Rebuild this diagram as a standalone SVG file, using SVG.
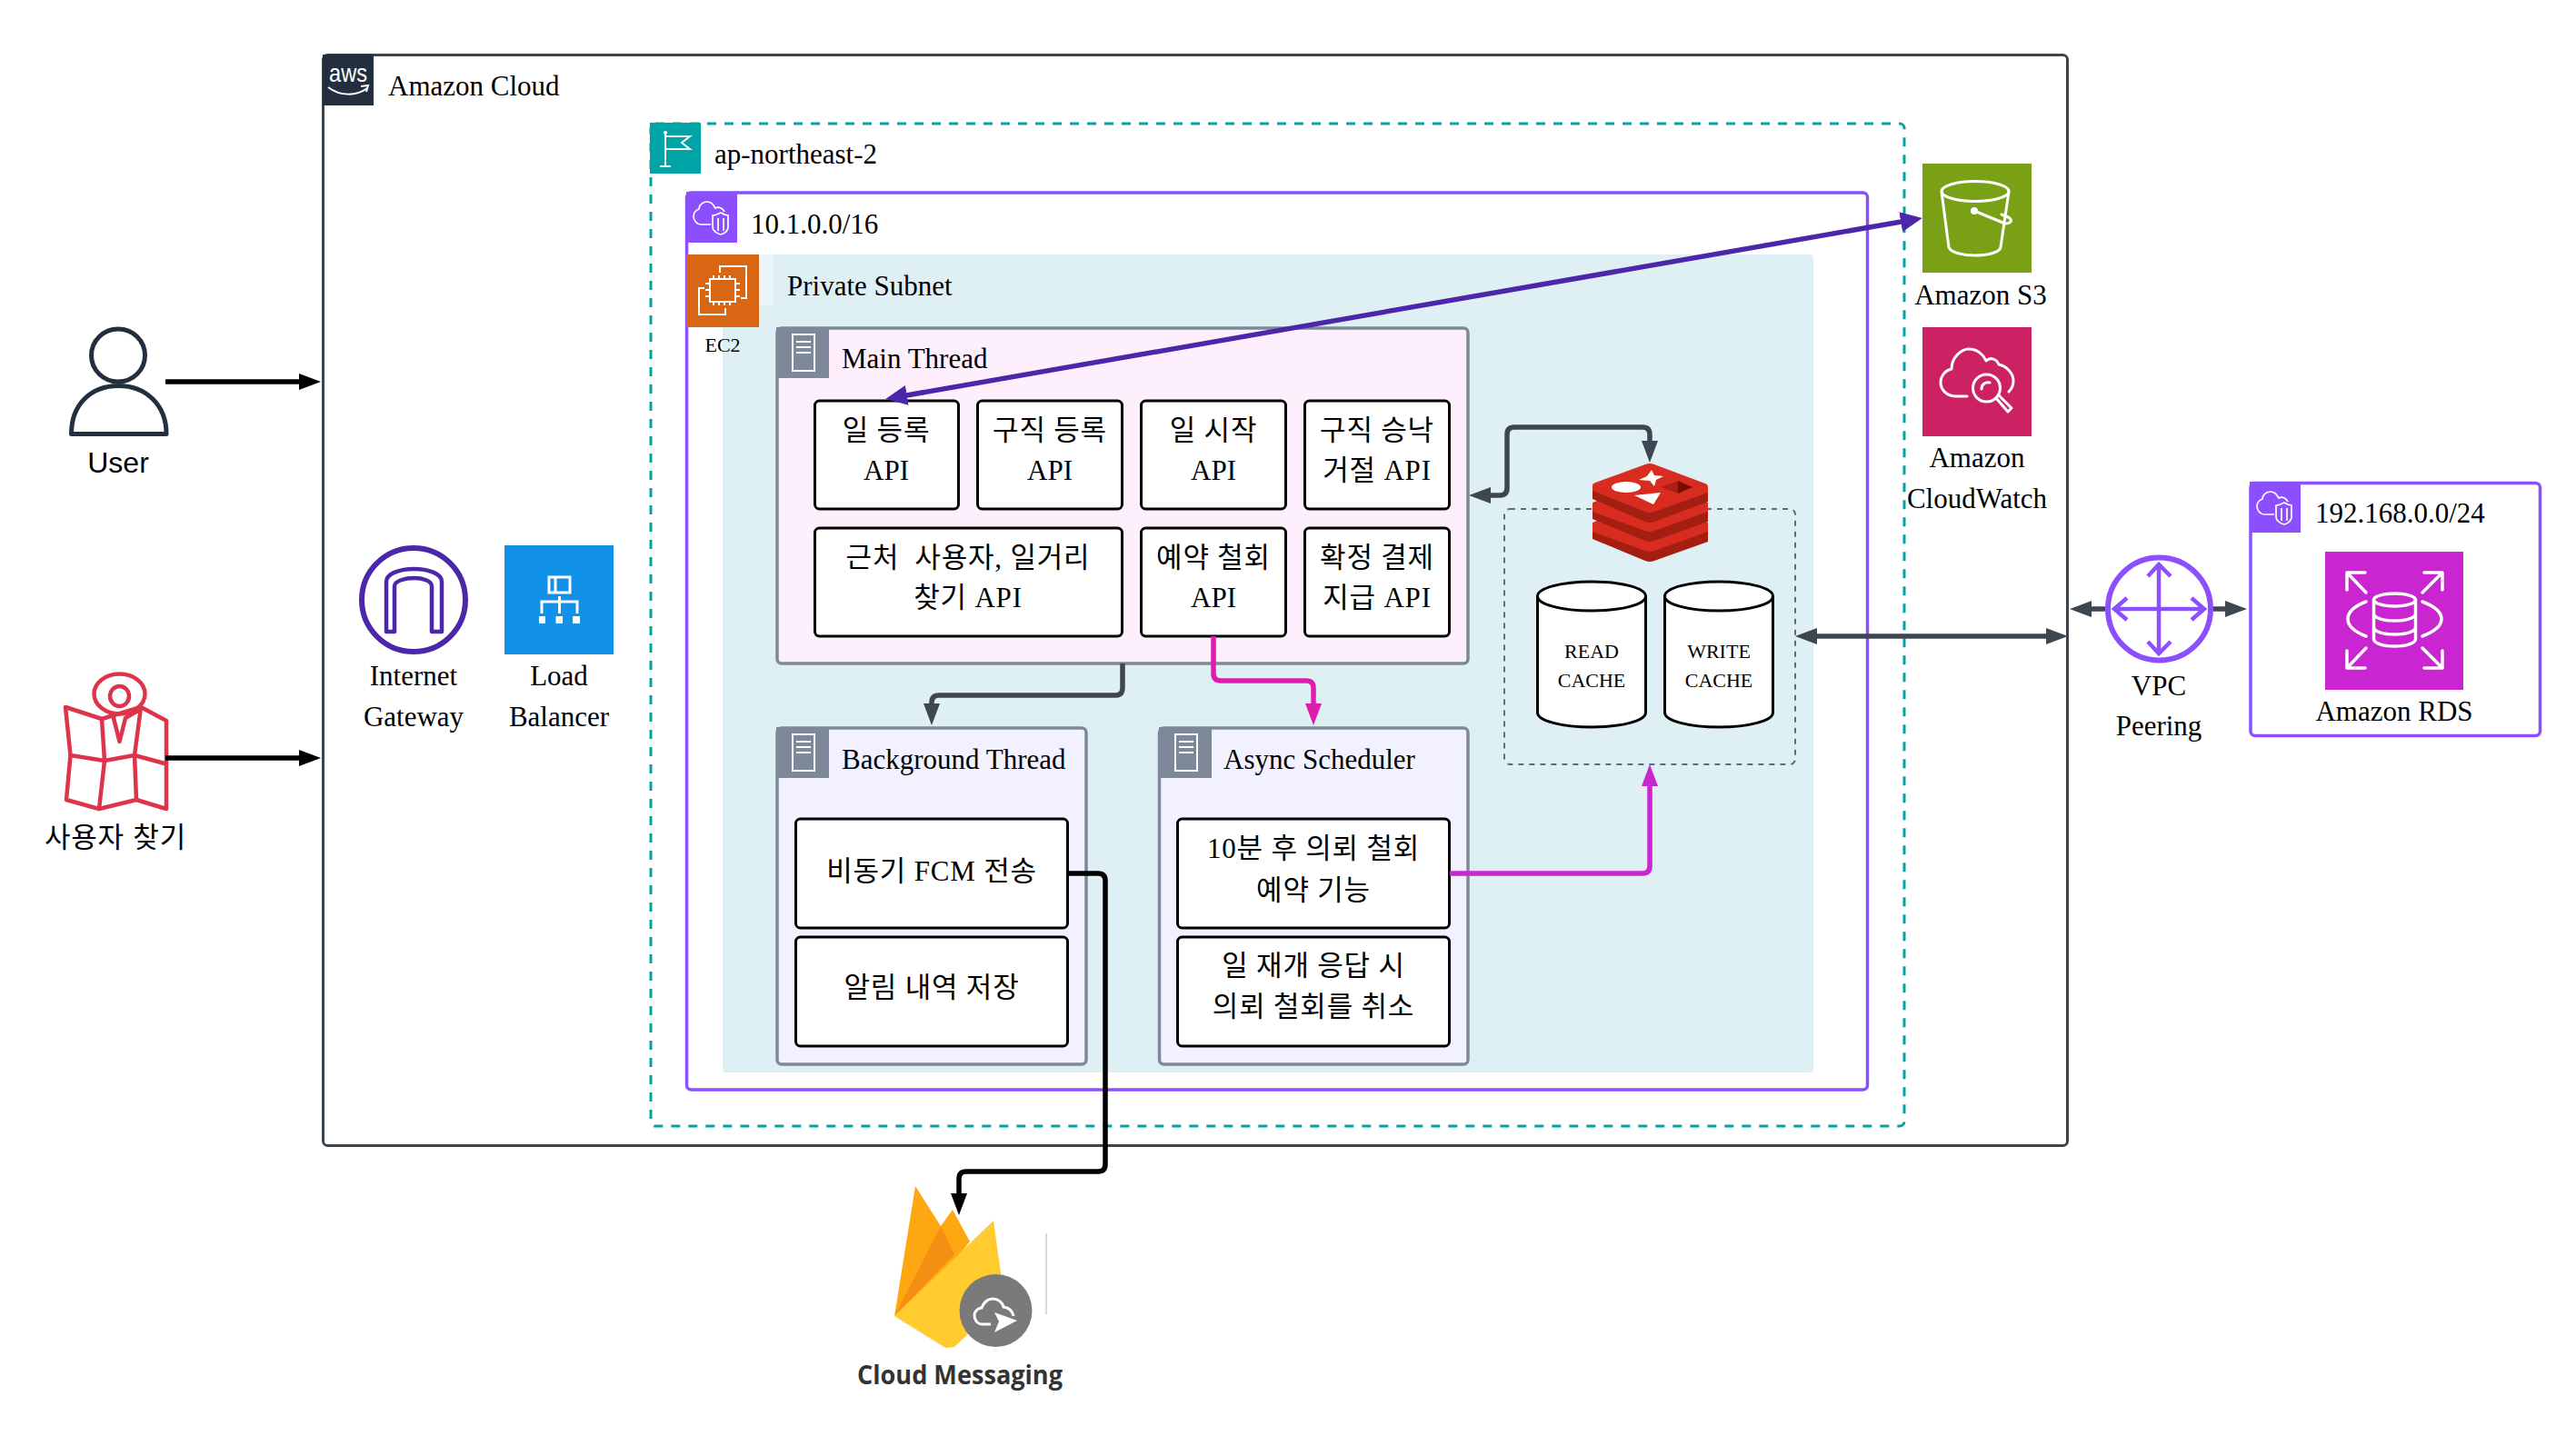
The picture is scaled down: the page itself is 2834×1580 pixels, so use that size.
<svg xmlns="http://www.w3.org/2000/svg" xmlns:xlink="http://www.w3.org/1999/xlink" width="2834" height="1580" viewBox="0 0 2834 1580">
<style>
text{font-family:"Liberation Serif","Noto Sans CJK KR",serif;font-size:31px;fill:#000;white-space:pre}
.m{text-anchor:middle}
.k{letter-spacing:.8px}
.s{font-family:"Liberation Sans","Noto Sans CJK KR",sans-serif}
.sm{font-size:22px}
.card{fill:#fff;stroke:#000;stroke-width:3}
.thread{stroke:#7D8998;stroke-width:3.5}
.hdr{fill:#7D8998}
.ic{fill:none;stroke:#fff;stroke-width:3;stroke-linecap:round;stroke-linejoin:round}
.icn{fill:none;stroke:#fff;stroke-width:2}
.con{fill:none;stroke-width:5.5}
.vpc{fill:#fff;stroke:#8C4FFF;stroke-width:3.5}
.cyl{fill:#fff;stroke:#000;stroke-width:3}
</style>
<defs>
<marker id="ak" markerUnits="userSpaceOnUse" markerWidth="24" markerHeight="18" refX="12" refY="9" orient="auto-start-reverse"><path d="M0 0L24 9L0 18Z" fill="#000"/></marker>
<marker id="ag" markerUnits="userSpaceOnUse" markerWidth="24" markerHeight="18" refX="12" refY="9" orient="auto-start-reverse"><path d="M0 0L24 9L0 18Z" fill="#3D4651"/></marker>
<marker id="ap" markerUnits="userSpaceOnUse" markerWidth="24" markerHeight="22" refX="12" refY="11" orient="auto-start-reverse"><path d="M0 0L24 11L0 22Z" fill="#4D27AA"/></marker>
<marker id="am" markerUnits="userSpaceOnUse" markerWidth="24" markerHeight="18" refX="12" refY="9" orient="auto-start-reverse"><path d="M0 0L24 9L0 18Z" fill="#E01CB0"/></marker>
<marker id="an" markerUnits="userSpaceOnUse" markerWidth="24" markerHeight="18" refX="12" refY="9" orient="auto-start-reverse"><path d="M0 0L24 9L0 18Z" fill="#C925D1"/></marker>
<g id="server"><rect width="58" height="56" class="hdr"/><rect x="18" y="8" width="24" height="40" class="icn"/><path d="M22 16H38M22 22H38M22 28H38" class="icn"/></g>
<g id="vpcicon"><rect width="56" height="56" fill="#8C4FFF"/><path d="M27 36H17C11 36 8 31 8 27C8 23 11 20 14 19C14 14 19 11 23 11C27 11 30 14 32 18C36 16 40 18 42 22" fill="none" stroke="#fff" stroke-width="1.7"/><path d="M38 23C34 25 32 26 29 26V39C29 43 34 46 38 47C42 46 46 43 46 39V26C43 26 41 25 38 23ZM35 29V43M41 29V43" fill="none" stroke="#fff" stroke-width="1.7"/></g>
</defs>
<rect width="2834" height="1580" fill="#fff"/>

<g id="amazon-cloud">
<rect x="355.500" y="60.500" width="1919" height="1200" rx="5" fill="#fff" stroke="#3A4450" stroke-width="3"/>
<rect x="355" y="60" width="56" height="56" fill="#232F3E"/>
<text x="383" y="90" class="m s" style="font-size:28px;fill:#fff" textLength="42" lengthAdjust="spacingAndGlyphs">aws</text>
<path d="M361 96C374 106 392 106 404 97M397 95L405 94L403 101" fill="none" stroke="#fff" stroke-width="2"/>
<text x="427" y="105">Amazon Cloud</text>
</g>
<g id="region">
<rect x="716" y="136" width="1379" height="1103" rx="5" fill="#fff" stroke="#00A4A6" stroke-width="3" stroke-dasharray="10 9"/>
<rect x="715" y="135" width="56" height="56" fill="#00A4A6"/>
<path d="M732 148V182M726 183H738M732 150H759L750 157L759 164H732" fill="none" stroke="#fff" stroke-width="2"/>
<circle cx="732" cy="146" r="2" fill="#fff"/>
<text x="786" y="180">ap-northeast-2</text>
</g>
<g id="vpc-main">
<rect x="755.500" y="212" width="1299" height="987" rx="5" class="vpc"/>
<use xlink:href="#vpcicon" x="755" y="211"/>
<text x="826" y="257">10.1.0.0/16</text>
</g>
<g id="private-subnet">
<rect x="795" y="280" width="1200" height="900" rx="4" fill="#DFF0F5"/>
<rect x="835" y="280" width="16" height="56" fill="#EAF4FB"/>
<text x="866" y="325">Private Subnet</text>
</g>
<g id="ec2">
<rect x="755" y="280" width="80" height="80" fill="#D86613"/>
<g class="icn"><rect x="781" y="307" width="28" height="25"/>
<path d="M785 307V303M791 307V303M797 307V303M803 307V303M785 332V336M791 332V336M797 332V336M803 332V336M781 312H776M781 319H776M781 326H776M809 312H814M809 319H814M809 326H814M792 300V293H821V328H815M775 317H769V346H798V339"/></g>
<text x="795" y="387" class="m sm">EC2</text>
</g>

<g id="main-thread">
<rect x="855" y="361" width="760" height="369" rx="5" fill="#FDEFFB" class="thread"/>
<use xlink:href="#server" x="854" y="360"/>
<text x="926" y="405">Main Thread</text>
</g>
<g id="api-1"><rect x="896.500" y="441" width="158" height="119" rx="5" class="card"/><text x="975" y="484" class="m k">일 등록</text><text x="975" y="528" class="m">API</text></g>
<g id="api-2"><rect x="1075.500" y="441" width="159" height="119" rx="5" class="card"/><text x="1155" y="484" class="m k">구직 등록</text><text x="1155" y="528" class="m">API</text></g>
<g id="api-3"><rect x="1255.500" y="441" width="159" height="119" rx="5" class="card"/><text x="1335" y="484" class="m k">일 시작</text><text x="1335" y="528" class="m">API</text></g>
<g id="api-4"><rect x="1435.500" y="441" width="159" height="119" rx="5" class="card"/><text x="1515" y="484" class="m k">구직 승낙</text><text x="1515" y="528" class="m k">거절 API</text></g>
<g id="api-5"><rect x="896.500" y="581" width="338" height="119" rx="5" class="card"/><text x="1065" y="624" class="m k">근처  사용자, 일거리</text><text x="1065" y="668" class="m k">찾기 API</text></g>
<g id="api-6"><rect x="1255.500" y="581" width="159" height="119" rx="5" class="card"/><text x="1335" y="624" class="m k">예약 철회</text><text x="1335" y="668" class="m">API</text></g>
<g id="api-7"><rect x="1435.500" y="581" width="159" height="119" rx="5" class="card"/><text x="1515" y="624" class="m k">확정 결제</text><text x="1515" y="668" class="m k">지급 API</text></g>

<g id="background-thread">
<rect x="855" y="801" width="340" height="370" rx="5" fill="#F1F1FF" class="thread"/>
<use xlink:href="#server" x="854" y="800"/>
<text x="926" y="846">Background Thread</text>
<g id="bg-1"><rect x="875.500" y="901" width="299" height="120" rx="5" class="card"/><text x="1025" y="969" class="m k">비동기 FCM 전송</text></g>
<g id="bg-2"><rect x="875.500" y="1031" width="299" height="120" rx="5" class="card"/><text x="1025" y="1097" class="m k">알림 내역 저장</text></g>
</g>
<g id="async-scheduler">
<rect x="1275.500" y="801" width="339.500" height="370" rx="5" fill="#F1F1FF" class="thread"/>
<use xlink:href="#server" x="1275" y="800"/>
<text x="1346" y="846">Async Scheduler</text>
<g id="as-1"><rect x="1295.500" y="901" width="299" height="120" rx="5" class="card"/><text x="1445" y="944" class="m k">10분 후 의뢰 철회</text><text x="1445" y="990" class="m k">예약 기능</text></g>
<g id="as-2"><rect x="1295.500" y="1031" width="299" height="120" rx="5" class="card"/><text x="1445" y="1073" class="m k">일 재개 응답 시</text><text x="1445" y="1118" class="m k">의뢰 철회를 취소</text></g>
</g>

<g id="redis-group">
<rect x="1655" y="560" width="320" height="281" rx="6" fill="none" stroke="#5A6B86" stroke-width="2" stroke-dasharray="6 6"/>
</g>
<g id="redis">
<path d="M1752 582L1815 556L1879 582V596L1820 617Q1815 619 1810 617L1752 593Z" fill="#A41E11"/>
<path d="M1752 575L1815 550L1879 575V585L1820 606Q1815 608 1810 606L1752 585Z" fill="#D82C20"/>
<path d="M1752 560L1815 534L1879 560V574L1820 595Q1815 597 1810 595L1752 571Z" fill="#A41E11"/>
<path d="M1752 553L1815 528L1879 553V563L1820 584Q1815 586 1810 584L1752 563Z" fill="#D82C20"/>
<path d="M1752 537L1815 512L1879 537V552L1820 574Q1815 576 1810 574L1752 549Z" fill="#A41E11"/>
<path d="M1752 534Q1752 532 1755 531L1810 511Q1815 509 1820 511L1876 532Q1879 533 1879 536V542L1820 563Q1815 565 1810 563L1752 540Z" fill="#D82C20"/>
<path d="M1817 517L1820 523L1830 524L1822 528L1820 535L1815 529L1803 528L1812 524Z" fill="#fff"/>
<ellipse cx="1789" cy="536" rx="16" ry="6" fill="#fff"/>
<path d="M1798 545L1827 542L1819 555Z" fill="#fff"/>
<path d="M1827 536L1846 529V543Z" fill="#AD2115"/>
<path d="M1846 529L1862 536L1846 543Z" fill="#7A0C00"/>
</g>
<g id="read-cache">
<path d="M1691.500 656C1691.500 647 1718 640 1751 640C1784 640 1810.500 647 1810.500 656V784C1810.500 793 1784 800 1751 800C1718 800 1691.500 793 1691.500 784Z" class="cyl"/>
<path d="M1691.500 656C1691.500 665 1718 672 1751 672C1784 672 1810.500 665 1810.500 656" class="cyl" fill="none"/>
<text x="1751" y="724" class="m sm">READ</text><text x="1751" y="756" class="m sm">CACHE</text>
</g>
<g id="write-cache">
<path d="M1831.500 656C1831.500 647 1858 640 1891 640C1924 640 1950.500 647 1950.500 656V784C1950.500 793 1924 800 1891 800C1858 800 1831.500 793 1831.500 784Z" class="cyl"/>
<path d="M1831.500 656C1831.500 665 1858 672 1891 672C1924 672 1950.500 665 1950.500 656" class="cyl" fill="none"/>
<text x="1891" y="724" class="m sm">WRITE</text><text x="1891" y="756" class="m sm">CACHE</text>
</g>

<g id="user">
<ellipse cx="130" cy="391" rx="29.500" ry="29" fill="none" stroke="#232F3E" stroke-width="5"/>
<path d="M78.500 477.500C78.500 445 100 424.500 130.500 424.500C160 424.500 183 445 183 477.500Z" fill="none" stroke="#232F3E" stroke-width="5" stroke-linejoin="round"/>
<text x="130" y="520" class="m s" style="font-size:32px">User</text>
</g>
<g id="find-user">
<g fill="none" stroke="#DD344C" stroke-width="4.500" stroke-linejoin="round" stroke-linecap="round">
<ellipse cx="131.500" cy="763.500" rx="28" ry="22"/>
<ellipse cx="131.500" cy="766" rx="10.500" ry="11"/>
<path d="M72 778L112 791L155 778L183 793V890L150 880L109 890L73 880L77.500 831Z"/>
<path d="M77.500 831L115 837L148 831L181 840M112 791L115 837L109 890M155 778L148 831L150 880M125 790L131.500 816L138 790L155 780"/>
</g>
<text x="127" y="932" class="m s k">사용자 찾기</text>
</g>
<g id="internet-gateway">
<circle cx="455" cy="660" r="57" fill="#fff" stroke="#4D27AA" stroke-width="6"/>
<path d="M425 695V640C425 631 440 626 455.500 626C471 626 486 631 486 640V695H475V645C475 639 465 636 455.500 636C446 636 434 639 434 645V695Z" fill="none" stroke="#4D27AA" stroke-width="4.500" stroke-linejoin="round"/>
<text x="455" y="754" class="m">Internet</text><text x="455" y="799" class="m">Gateway</text>
</g>
<g id="load-balancer">
<rect x="555" y="600" width="120" height="120" fill="#1192E8"/>
<g fill="none" stroke="#fff" stroke-width="3"><rect x="604" y="635" width="23" height="17"/><path d="M611 635V652M615.500 656V675M596 675V662H635V675"/></g>
<path d="M593 678h7v8h-7zM611.500 678h7.500v8h-7.500zM630 678h8v8h-8z" fill="#fff"/>
<text x="615" y="754" class="m">Load</text><text x="615" y="799" class="m">Balancer</text>
</g>
<g id="s3">
<rect x="2115" y="180" width="120" height="120" fill="#7AA116"/>
<g class="ic"><ellipse cx="2173" cy="210.500" rx="37" ry="11"/><path d="M2136 211L2144 272C2146 278 2160 281 2173 281C2186 281 2200 278 2201 272L2210 211"/><circle cx="2172" cy="232" r="2.500"/><path d="M2172 232L2206 246C2212 246 2214 243 2211 240C2208 238 2205 237 2202 236"/></g>
<text x="2179" y="335" class="m">Amazon S3</text>
</g>
<g id="cloudwatch">
<rect x="2115" y="360" width="120" height="120" fill="#CC2264"/>
<g class="ic"><path d="M2164 436H2152C2141 436 2135 428 2135 421C2135 413 2141 407 2147 406C2147 393 2158 384 2166 384C2175 384 2182 390 2185 397C2189 393 2196 394 2199 401C2208 403 2215 411 2215 419C2215 424 2213 428 2210 431"/><circle cx="2185.500" cy="427" r="15"/><path d="M2196 438L2209 453L2213 449L2199 435M2180 428C2180 423 2184 420 2189 421"/></g>
<text x="2175" y="514" class="m">Amazon</text><text x="2175" y="559" class="m">CloudWatch</text>
</g>
<g id="vpc-peering">
<circle cx="2375.500" cy="670" r="56.500" fill="#fff" stroke="#8C4FFF" stroke-width="6"/>
<path d="M2375 622V718M2326 670H2425M2363 634L2375 621L2388 634M2363 706L2375 719L2388 706M2340 658L2326 670L2340 682M2411 658L2425 670L2411 682" fill="none" stroke="#8C4FFF" stroke-width="4.500"/>
<text x="2375" y="765" class="m">VPC</text><text x="2375" y="809" class="m">Peering</text>
</g>
<g id="vpc-rds">
<rect x="2476" y="531.500" width="318.500" height="278" rx="5" class="vpc"/>
<use xlink:href="#vpcicon" x="2475" y="530"/>
<text x="2547" y="575">192.168.0.0/24</text>
</g>
<g id="rds">
<rect x="2558" y="607" width="152" height="152" fill="#C925D1"/>
<g class="ic" style="stroke-width:3.500"><ellipse cx="2634.500" cy="660" rx="23" ry="7"/><path d="M2611.500 660V703C2611.500 708 2622 711 2634.500 711C2647 711 2657.500 708 2657.500 703V660M2611.500 675C2611.500 680 2622 683 2634.500 683C2647 683 2657.500 680 2657.500 675M2611.500 690C2611.500 695 2622 698 2634.500 698C2647 698 2657.500 695 2657.500 690M2603 662C2590 667 2583 674 2583 681C2583 688 2590 695 2603 700M2665 662C2678 667 2686 674 2686 681C2686 688 2678 695 2665 700"/><path d="M2603 652L2582 630M2582 649V630H2602M2665 652L2687 630M2667 630H2687V649M2603 713L2582 735M2582 716V735H2602M2665 713L2687 735M2667 735H2687V716"/></g>
<text x="2634" y="793" class="m">Amazon RDS</text>
</g>
<g id="firebase">
<path d="M984 1448L1007 1305L1035 1349L1048 1331L1067 1366L1040 1400Z" fill="#FFA712"/>
<path d="M984 1448L1035 1349L1050 1380Z" fill="#F58F14"/>
<path d="M984 1448L1093 1343L1105 1430L1050 1482L1040 1483Z" fill="#FFCB2F"/>
<circle cx="1095.500" cy="1442" r="40" fill="#7A7A7A"/>
<path d="M1090 1457H1081C1074 1457 1072 1451 1072 1447C1072 1443 1076 1439 1080 1439C1082 1433 1087 1429 1092 1429C1098 1429 1103 1433 1104 1438C1110 1439 1114 1442 1115 1448" fill="none" stroke="#fff" stroke-width="3"/>
<path d="M1094 1444L1119 1453L1094 1466L1099 1454Z" fill="#fff"/>
<path d="M1151 1357V1446" stroke="#CCC" stroke-width="1.500"/>
<text x="1056" y="1523" class="m" style="font-family:'Open Sans',sans-serif;font-weight:700;font-size:29px;fill:#333" textLength="226" lengthAdjust="spacingAndGlyphs">Cloud Messaging</text>
</g>

<g id="connectors" class="connectors">
<path d="M182 420H341" class="con" stroke="#000" marker-end="url(#ak)"/>
<path d="M182 834H341" class="con" stroke="#000" marker-end="url(#ak)"/>
<path d="M986 437L2103 242" class="con" stroke="#4D27AA" marker-start="url(#ap)" marker-end="url(#ap)"/>
<path d="M1235 730V757Q1235 765 1227 765H1033Q1025 765 1025 773V786" class="con" stroke="#3D4651" marker-end="url(#ag)"/>
<path d="M1335 700V741Q1335 749 1343 749H1437Q1445 749 1445 757V786" class="con" stroke="#E01CB0" marker-end="url(#am)"/>
<path d="M1628 545H1650Q1658 545 1658 537V478Q1658 470 1666 470H1807Q1815 470 1815 478V497" class="con" stroke="#3D4651" marker-start="url(#ag)" marker-end="url(#ag)"/>
<path d="M1987 700H2263" class="con" stroke="#3D4651" marker-start="url(#ag)" marker-end="url(#ag)"/>
<path d="M2289 670H2316" class="con" stroke="#3D4651" marker-start="url(#ag)"/>
<path d="M2435 670H2460" class="con" stroke="#3D4651" marker-end="url(#ag)"/>
<path d="M1175 961H1208Q1216 961 1216 969V1281Q1216 1289 1208 1289H1063Q1055 1289 1055 1297V1325" class="con" stroke="#000" marker-end="url(#ak)"/>
<path d="M1595 961H1807Q1815 961 1815 953V853" class="con" stroke="#C925D1" marker-end="url(#an)"/>
</g>
</svg>
